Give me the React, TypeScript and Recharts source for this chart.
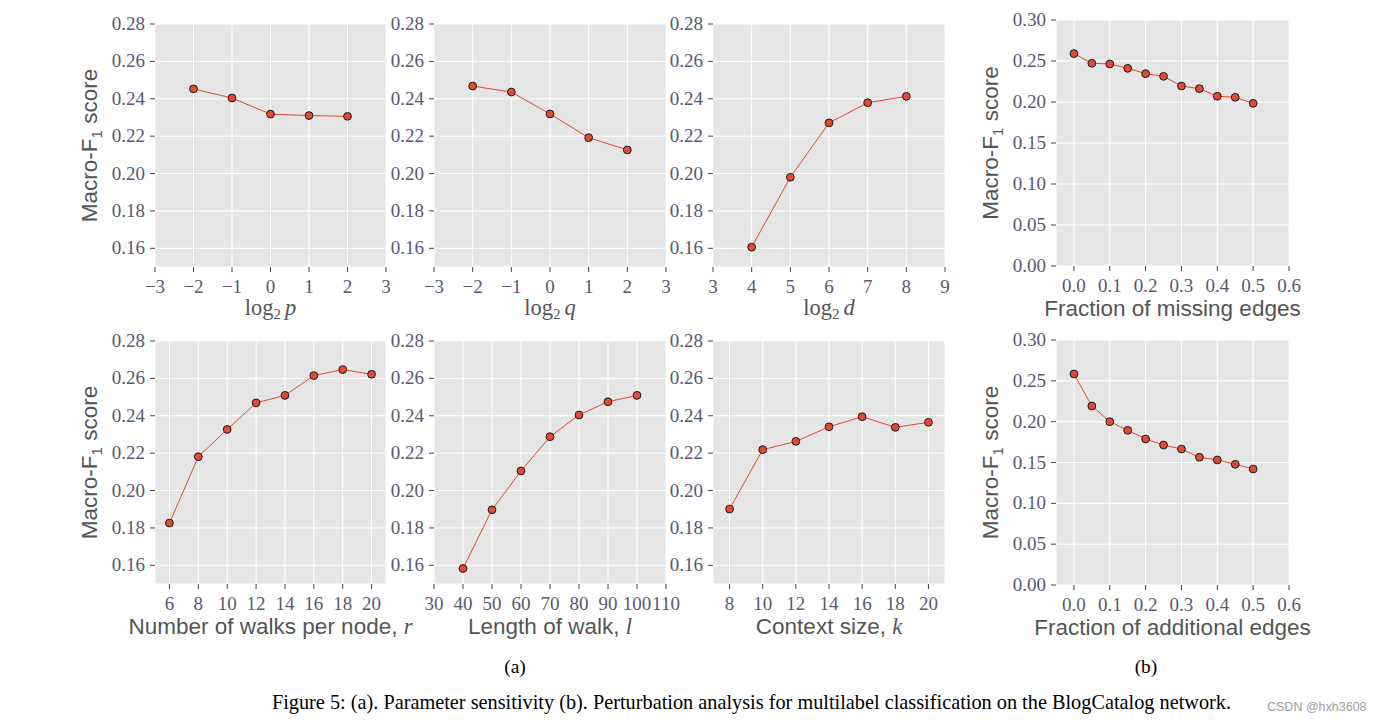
import React from 'react'
import { LineChart, Line, XAxis, YAxis, CartesianGrid, Label } from 'recharts'

// (a) parameter sensitivity
const log2p = [-2, -1, 0, 1, 2]
const f1ByP = [0.2453, 0.2404, 0.2318, 0.231, 0.2306]

const log2q = [-2, -1, 0, 1, 2]
const f1ByQ = [0.2468, 0.2436, 0.2319, 0.2192, 0.2126]

const log2d = [4, 5, 6, 7, 8]
const f1ByD = [0.1606, 0.198, 0.2271, 0.2379, 0.2413]

const walksPerNode = [6, 8, 10, 12, 14, 16, 18, 20]
const f1ByWalks = [0.1826, 0.2181, 0.2327, 0.2469, 0.2509, 0.2615, 0.2647, 0.2622]

const walkLength = [40, 50, 60, 70, 80, 90, 100]
const f1ByLength = [0.1583, 0.1897, 0.2105, 0.2288, 0.2404, 0.2475, 0.2509]

const contextSize = [8, 10, 12, 14, 16, 18, 20]
const f1ByContext = [0.1901, 0.2219, 0.2263, 0.2341, 0.2395, 0.2338, 0.2365]

// (b) perturbation
const edgeFraction = [0, 0.05, 0.1, 0.15, 0.2, 0.25, 0.3, 0.35, 0.4, 0.45, 0.5]
const f1Missing = [0.259, 0.2472, 0.2464, 0.2411, 0.2346, 0.2313, 0.2195, 0.2163, 0.207, 0.2057, 0.1984]
const f1Additional = [0.2584, 0.2192, 0.2, 0.1894, 0.1788, 0.1714, 0.1665, 0.1564, 0.1531, 0.1478, 0.142]

// tick labels
const logTicks = [-3, -2, -1, 0, 1, 2, 3]
const dTicks = [3, 4, 5, 6, 7, 8, 9]
const walkTicks = [6, 8, 10, 12, 14, 16, 18, 20]
const lengthTicks = [30, 40, 50, 60, 70, 80, 90, 100, 110]
const contextTicks = [8, 10, 12, 14, 16, 18, 20]
const fracTicks = [0, 0.1, 0.2, 0.3, 0.4, 0.5, 0.6]
const f1Ticks = [0.16, 0.18, 0.2, 0.22, 0.24, 0.26, 0.28]
const f1TicksB = [0, 0.05, 0.1, 0.15, 0.2, 0.25, 0.3]

const RED = '#E24A33'
const TICK_COLOR = '#575a70'
const TITLE_COLOR = '#555555'
const SERIF = '"Liberation Serif", "DejaVu Serif", serif'
const SANS = '"Liberation Sans", Arial, sans-serif'

const L = 80
const R = 12
const T = 12
const B = 60
const EXTRA = 70 // spare room right of the plot so long axis titles aren't clipped

const fmt = (v: number, digits: number) => v.toFixed(digits).replace('-', '\u2212')

type Box = { x: number; y: number; w: number; h: number }

function XTick({ x, y, payload, digits }: any) {
  return (
    <text x={x} y={y} dy={19} textAnchor="middle" fontFamily={SERIF} fontSize={19} fill={TICK_COLOR}>
      {fmt(payload.value, digits)}
    </text>
  )
}

function YTick({ x, y, payload, digits }: any) {
  return (
    <text x={x} y={y} dy={6} textAnchor="end" fontFamily={SERIF} fontSize={19} fill={TICK_COLOR}>
      {fmt(payload.value, digits)}
    </text>
  )
}

function LogTitle({ v }: { v: string }) {
  return (
    <>
      <tspan>log</tspan>
      <tspan fontSize={15} dy={4}>2</tspan>
      <tspan dy={-4} dx={4} fontStyle="italic">{v}</tspan>
    </>
  )
}

function SansTitle({ text, v }: { text: string; v?: string }) {
  return (
    <>
      <tspan fontFamily={SANS}>{text}</tspan>
      {v && (
        <tspan fontFamily={SERIF} fontStyle="italic">{v}</tspan>
      )}
    </>
  )
}

interface PanelProps {
  box: Box
  xs: number[]
  ys: number[]
  xDomain: [number, number]
  xTicks: number[]
  xDigits: number
  yDomain: [number, number]
  yTicks: number[]
  yDigits: number
  title: React.ReactNode
  serifTitle?: boolean
  yTitle?: boolean
}

function Panel({ box, xs, ys, xDomain, xTicks, xDigits, yDomain, yTicks, yDigits, title, serifTitle, yTitle }: PanelProps) {
  const data = xs.map((x, i) => ({ x, y: ys[i] }))
  const tickLine = { stroke: '#444', strokeWidth: 1 }
  return (
    <div style={{ position: 'absolute', left: box.x - L, top: box.y - T }}>
      <LineChart
        width={box.w + L + R + EXTRA}
        height={box.h + T + B}
        data={data}
        margin={{ top: 0, right: EXTRA, bottom: 0, left: 0 }}
      >
        <CartesianGrid fill="#e5e5e5" stroke="#ffffff" strokeWidth={1} />
        <XAxis
          xAxisId={0}
          dataKey="x"
          type="number"
          domain={xDomain}
          ticks={xTicks}
          interval={0}
          allowDataOverflow
          height={B}
          axisLine={false}
          tickSize={5}
          tickLine={tickLine}
          tick={<XTick digits={xDigits} />}
        >
          <Label
            content={({ viewBox }: any) => (
              <text
                x={viewBox.x + viewBox.width / 2}
                y={viewBox.y + (serifTitle ? 47.5 : 49.5)}
                textAnchor="middle"
                fontFamily={SERIF}
                fontSize={22.5}
                fill={TITLE_COLOR}
              >
                {title}
              </text>
            )}
          />
        </XAxis>
        <XAxis
          xAxisId="top"
          orientation="top"
          type="number"
          domain={xDomain}
          ticks={xTicks}
          interval={0}
          allowDataOverflow
          height={T}
          axisLine={false}
          tickSize={5}
          tickLine={tickLine}
          tick={false}
        />
        <YAxis
          yAxisId={0}
          type="number"
          domain={yDomain}
          ticks={yTicks}
          interval={0}
          allowDataOverflow
          width={L}
          axisLine={false}
          tickSize={5}
          tickMargin={5}
          tickLine={tickLine}
          tick={<YTick digits={yDigits} />}
        >
          {yTitle && (
            <Label
              content={({ viewBox }: any) => {
                const cx = viewBox.x + viewBox.width - 58
                const cy = viewBox.y + viewBox.height / 2
                return (
                  <text
                    x={cx}
                    y={cy}
                    transform={`rotate(-90 ${cx} ${cy})`}
                    textAnchor="middle"
                    fontFamily={SANS}
                    fontSize={22.5}
                    fill={TITLE_COLOR}
                  >
                    <tspan>Macro-F</tspan>
                    <tspan fontSize={15} dy={5}>1</tspan>
                    <tspan dy={-5}> score</tspan>
                  </text>
                )
              }}
            />
          )}
        </YAxis>
        <YAxis
          yAxisId="right"
          orientation="right"
          type="number"
          domain={yDomain}
          ticks={yTicks}
          interval={0}
          allowDataOverflow
          width={R}
          axisLine={false}
          tickSize={5}
          tickLine={tickLine}
          tick={false}
        />
        <Line
          xAxisId={0}
          yAxisId={0}
          type="linear"
          dataKey="y"
          stroke={RED}
          strokeWidth={1}
          dot={{ r: 3.9, fill: RED, stroke: '#1a1a1a', strokeWidth: 1 }}
          isAnimationActive={false}
        />
      </LineChart>
    </div>
  )
}

export default function App() {
  const yA: [number, number] = [0.15, 0.28]
  const yB: [number, number] = [0, 0.3]
  const xB: [number, number] = [-0.05, 0.6]
  return (
    <div
      style={{
        position: 'absolute',
        left: 0,
        top: 0,
        width: 1382,
        height: 723,
        background: '#fff',
        overflow: 'hidden',
      }}
    >
      <Panel box={{ x: 155, y: 24, w: 231, h: 243 }} xs={log2p} ys={f1ByP} xDomain={[-3, 3]} xTicks={logTicks} xDigits={0}
        yDomain={yA} yTicks={f1Ticks} yDigits={2} title={<LogTitle v="p" />} serifTitle yTitle />
      <Panel box={{ x: 434, y: 24, w: 232, h: 243 }} xs={log2q} ys={f1ByQ} xDomain={[-3, 3]} xTicks={logTicks} xDigits={0}
        yDomain={yA} yTicks={f1Ticks} yDigits={2} title={<LogTitle v="q" />} serifTitle />
      <Panel box={{ x: 713, y: 24, w: 232, h: 243 }} xs={log2d} ys={f1ByD} xDomain={[3, 9]} xTicks={dTicks} xDigits={0}
        yDomain={yA} yTicks={f1Ticks} yDigits={2} title={<LogTitle v="d" />} serifTitle />
      <Panel box={{ x: 1056, y: 20, w: 233, h: 246 }} xs={edgeFraction} ys={f1Missing} xDomain={xB} xTicks={fracTicks} xDigits={1}
        yDomain={yB} yTicks={f1TicksB} yDigits={2} title={<SansTitle text="Fraction of missing edges" />} yTitle />

      <Panel box={{ x: 155, y: 341, w: 231, h: 243 }} xs={walksPerNode} ys={f1ByWalks} xDomain={[5, 21]} xTicks={walkTicks} xDigits={0}
        yDomain={yA} yTicks={f1Ticks} yDigits={2} title={<SansTitle text="Number of walks per node, " v="r" />} yTitle />
      <Panel box={{ x: 434, y: 341, w: 232, h: 243 }} xs={walkLength} ys={f1ByLength} xDomain={[30, 110]} xTicks={lengthTicks} xDigits={0}
        yDomain={yA} yTicks={f1Ticks} yDigits={2} title={<SansTitle text="Length of walk, " v="l" />} />
      <Panel box={{ x: 713, y: 341, w: 232, h: 243 }} xs={contextSize} ys={f1ByContext} xDomain={[7, 21]} xTicks={contextTicks} xDigits={0}
        yDomain={yA} yTicks={f1Ticks} yDigits={2} title={<SansTitle text="Context size, " v="k" />} />
      <Panel box={{ x: 1056, y: 340, w: 233, h: 245 }} xs={edgeFraction} ys={f1Additional} xDomain={xB} xTicks={fracTicks} xDigits={1}
        yDomain={yB} yTicks={f1TicksB} yDigits={2} title={<SansTitle text="Fraction of additional edges" />} yTitle />

      <div style={{ position: 'absolute', left: 465, top: 656, width: 100, textAlign: 'center', fontFamily: SERIF, fontSize: 19.5, color: '#000' }}>
        (a)
      </div>
      <div style={{ position: 'absolute', left: 1096, top: 656, width: 100, textAlign: 'center', fontFamily: SERIF, fontSize: 19.5, color: '#000' }}>
        (b)
      </div>
      <div style={{ position: 'absolute', left: 150, top: 691, width: 1203, textAlign: 'center', fontFamily: SERIF, fontSize: 20.3, color: '#000', whiteSpace: 'nowrap' }}>
        Figure 5: (a). Parameter sensitivity (b). Perturbation analysis for multilabel classification on the BlogCatalog network.
      </div>
      <div style={{ position: 'absolute', left: 1267, top: 700, fontFamily: SANS, fontSize: 12.5, color: '#a0a0a0', whiteSpace: 'nowrap' }}>
        CSDN @hxh3608
      </div>
    </div>
  )
}
